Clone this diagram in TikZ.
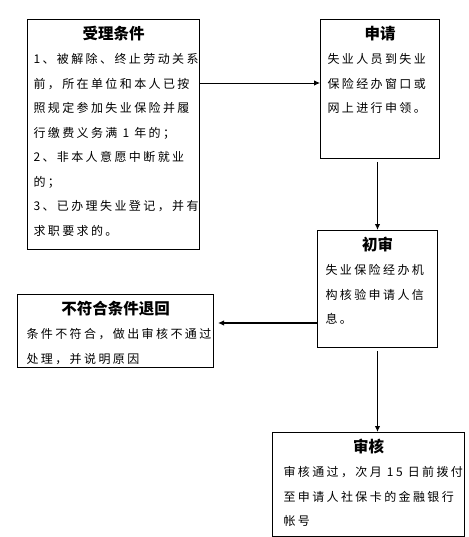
\documentclass[tikz,border=0pt]{standalone}
\usepackage{fontspec}
\newfontfamily\cjk{Noto Sans CJK SC}[LetterSpace=20]
\newfontfamily\cjktitle{Noto Sans CJK SC}
\usetikzlibrary{positioning,calc,arrows.meta}
\tikzset{
  card/.style={draw, line width=1pt, inner sep=0pt, anchor=north west, font=\cjk},
  flow/.style={-{Latex[length=6,width=5.5]}, line width=1.6pt},
  thinflow/.style={-{Latex[length=6,width=5.5]}, line width=0.8pt},
}
% box text: width, height, left pad, title, lines
\newcommand{\cardtext}[5]{%
  \parbox[c][#2pt][t]{#1pt}{\fontsize{12}{24.5}\selectfont
    \centering{\cjktitle\fontsize{15.5}{24.5}\selectfont\bfseries\rule{0pt}{19.7pt}#4}\par
    \raggedright\leftskip=#3pt #5}}

\begin{document}
\begin{tikzpicture}[x=1pt, y=-1pt]
    \useasboundingbox (0,0) rectangle (468,537);

    % the five steps
    \node[card] (cond) at (27,19) {\cardtext{172}{230}{6}{受理条件}{1、被解除、终止劳动关系\\前，所在单位和本人已按\\照规定参加失业保险并履\\行缴费义务满 1 年的；\\2、非本人意愿中断就业\\的；\\3、已办理失业登记，并有\\求职要求的。}};
    \node[card] (apply) at (320,19) {\cardtext{119}{139}{7}{申请}{失业人员到失业\\保险经办窗口或\\网上进行申领。}};
    \node[card] (check) at (317,230) {\cardtext{120}{117}{8}{初审}{失业保险经办机\\构核验申请人信\\息。}};
    \node[card] (reject) at (17,294) {\cardtext{196}{73}{9}{不符合条件退回}{条件不符合，做出审核不通过\\处理，并说明原因}};
    \node[card] (review) at (272,432) {\cardtext{192}{104}{11}{审核}{审核通过，次月 15 日前拨付\\至申请人社保卡的金融银行\\帐号}};

    % connectors
    \coordinate (applyin) at ($(apply.north west)+(0,64)$);
    \coordinate (rejin) at ($(reject.east)+(4,-8)$);
    \draw[thinflow] (cond.east |- applyin) -- (applyin);
    \draw[flow] ($(check.north |- apply.south)+(0,3)$) -- (check.north);
    \draw[flow] (check.west |- rejin) -- (rejin);
    \draw[flow] ($(check.south)+(0,3)$) -- (check.south |- review.north);

\end{tikzpicture}
\end{document}
